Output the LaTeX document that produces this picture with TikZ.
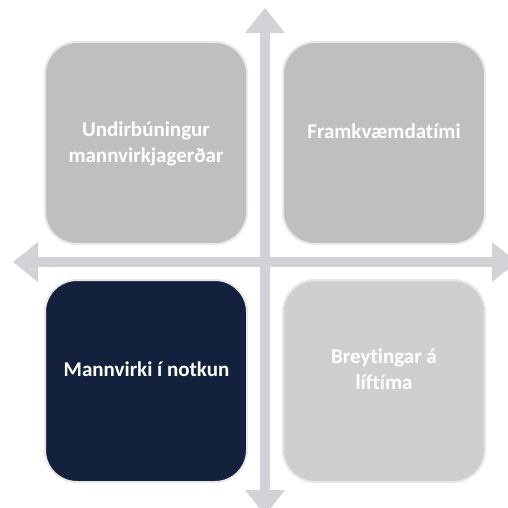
\documentclass[tikz,border=0pt]{standalone}
\usepackage{fontspec}
\setmainfont{Carlito}[Ligatures=NoCommon]
\usetikzlibrary{arrows.meta}
\definecolor{axisgray}{HTML}{D1D3D7}
\definecolor{quadline}{HTML}{E8E8E8}
\definecolor{darkgray}{HTML}{BFBFBF}
\definecolor{lightgray}{HTML}{D0CFD0}
\definecolor{navy}{HTML}{14213D}

\begin{document}
\begin{tikzpicture}[x=1pt,y=-1pt,
      quad/.style={draw=quadline, line width=2pt, rounded corners=32pt, minimum width=202pt, minimum height=202pt, inner sep=0pt},
      lbl/.style={font=\bfseries\fontsize{21}{26}\selectfont, text=white, align=center, anchor=base, inner sep=0pt},
      axis/.style={draw=axisgray, line width=10pt, {Triangle[width=40pt,length=25pt,line width=0pt]}-{Triangle[width=40pt,length=25pt,line width=0pt]}}
      ]
      \useasboundingbox (0,0) rectangle (508,508);
      \clip (0,0) rectangle (508,508);
      % axes
      \coordinate (N) at (265,8);
      \coordinate (S) at (265,515);
      \coordinate (W) at (13,262);
      \coordinate (E) at (517,262);
      \draw[axis] (W) -- (E);
      \draw[axis] (N) -- (S);
      % quadrants
      \node[quad, fill=darkgray] (TL) at (146,143) {};
      \node[quad, fill=darkgray] (TR) at (384,143) {};
      \node[quad, fill=navy] (BL) at (146,381) {};
      \node[quad, fill=lightgray] (BR) at (384,381) {};
      \node[lbl] (L1) at (146,162) {Undirbúningur\\mannvirkjagerðar};
      \node[lbl] (L2) at (384,138) {Framkvæmdatími};
      \node[lbl] (L3) at (146.5,376) {Mannvirki í notkun};
      \node[lbl] (L4) at (384,389) {Breytingar á\\líftíma};
    \end{tikzpicture}
\end{document}
